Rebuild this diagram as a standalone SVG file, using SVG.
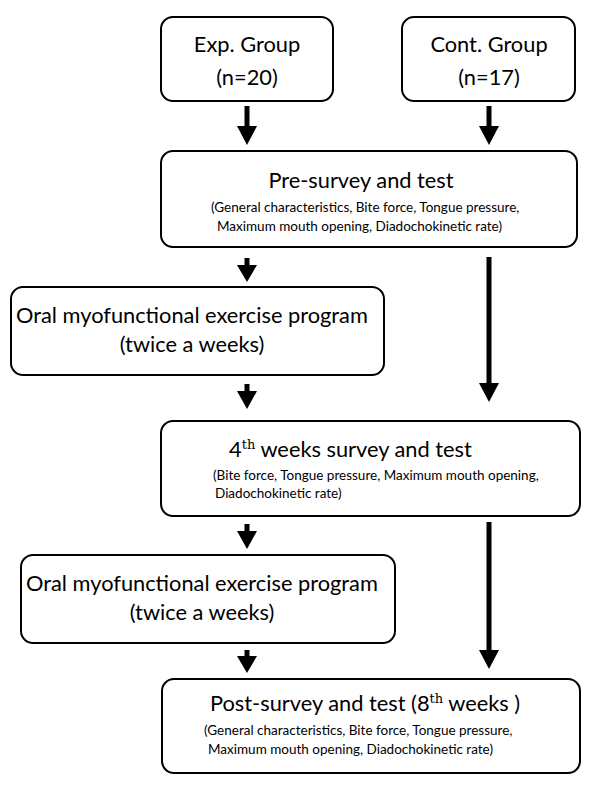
<svg xmlns="http://www.w3.org/2000/svg" width="592" height="792" viewBox="0 0 592 792">
<style>
.box{fill:#fff;stroke:#000;stroke-width:2}
.t{font-family:Lato,"Open Sans","Liberation Sans",sans-serif;font-size:21.8px;fill:#000}
.s{font-family:Lato,"Open Sans","Liberation Sans",sans-serif;font-size:13.5px;fill:#000}
.sup{font-family:"DejaVu Serif","Liberation Serif",serif;font-size:13px}
.ar{stroke:#000;stroke-width:5;fill:none}
.hd{fill:#000}
</style>
<rect width="592" height="792" fill="#fff"/>
<g id="exp">
<rect class="box" x="161" y="17" width="172" height="84" rx="12"/>
<text class="t" x="247" y="52" text-anchor="middle">Exp. Group</text>
<text class="t" x="247" y="85" text-anchor="middle">(n=20)</text>
</g>
<g id="cont">
<rect class="box" x="402" y="17" width="173" height="84" rx="12"/>
<text class="t" x="489" y="52" text-anchor="middle">Cont. Group</text>
<text class="t" x="489" y="85" text-anchor="middle">(n=17)</text>
</g>
<g id="pre">
<rect class="box" x="161" y="151" width="416" height="96" rx="12"/>
<text class="t" x="361" y="188" text-anchor="middle">Pre-survey and test</text>
<text class="s" x="211" y="212">(General characteristics, Bite force, Tongue pressure,</text>
<text class="s" x="217" y="231">Maximum mouth opening, Diadochokinetic rate)</text>
</g>
<g id="oral1">
<rect class="box" x="11" y="287" width="373" height="88" rx="12"/>
<text class="t" x="16" y="323">Oral myofunctional exercise program</text>
<text class="t" x="192" y="352" text-anchor="middle">(twice a weeks)</text>
</g>
<g id="week4">
<rect class="box" x="161" y="421" width="419" height="95" rx="12"/>
<text class="t" x="229" y="457">4<tspan class="sup" dy="-8">th</tspan><tspan dy="8"> weeks survey and test</tspan></text>
<text class="s" x="213" y="480">(Bite force, Tongue pressure, Maximum mouth opening,</text>
<text class="s" x="215" y="498">Diadochokinetic rate)</text>
</g>
<g id="oral2">
<rect class="box" x="21" y="555" width="374" height="88" rx="12"/>
<text class="t" x="26" y="591">Oral myofunctional exercise program</text>
<text class="t" x="202" y="620" text-anchor="middle">(twice a weeks)</text>
</g>
<g id="post">
<rect class="box" x="162" y="679" width="418" height="94" rx="12"/>
<text class="t" x="210" y="711">Post-survey and test (8<tspan class="sup" dy="-8">th</tspan><tspan dy="8"> weeks )</tspan></text>
<text class="s" x="204" y="735">(General characteristics, Bite force, Tongue pressure,</text>
<text class="s" x="208" y="754">Maximum mouth opening, Diadochokinetic rate)</text>
</g>
<g id="connectors">
<line class="ar" x1="247" y1="106" x2="247" y2="127"/><polygon class="hd" points="237,126 257,126 247,145"/>
<line class="ar" x1="489" y1="106" x2="489" y2="127"/><polygon class="hd" points="479,126 499,126 489,145"/>
<line class="ar" x1="247" y1="258" x2="247" y2="266"/><polygon class="hd" points="237,265 257,265 247,282"/>
<line class="ar" x1="489" y1="257" x2="489" y2="384"/><polygon class="hd" points="479,383 499,383 489,402"/>
<line class="ar" x1="247" y1="384" x2="247" y2="392"/><polygon class="hd" points="237,391 257,391 247,409"/>
<line class="ar" x1="247" y1="524" x2="247" y2="532"/><polygon class="hd" points="237,531 257,531 247,549"/>
<line class="ar" x1="489" y1="522" x2="489" y2="651"/><polygon class="hd" points="479,650 499,650 489,669"/>
<line class="ar" x1="247" y1="650" x2="247" y2="657"/><polygon class="hd" points="237,656 257,656 247,673"/>
</g>
</svg>
